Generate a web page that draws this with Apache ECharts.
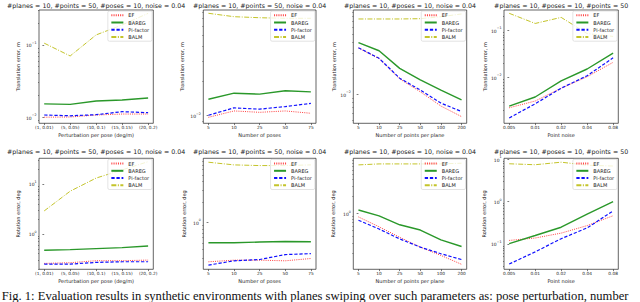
<!DOCTYPE html>
<html><head><meta charset="utf-8">
<script src="https://cdn.jsdelivr.net/npm/echarts@6/dist/echarts.min.js"></script>
<style>html,body{margin:0;padding:0;background:#fff}#c{width:640px;height:302px}</style>
</head><body><div id="c"></div>
<script>
const FONT = 'DejaVu Sans';
const seriesNames = ['EF', 'BAREG', 'Pi-factor', 'BALM'];

const pertCats = ['(1, 0.01)', '(5, 0.05)', '(10, 0.1)', '(15, 0.15)', '(20, 0.2)'];
const posesCats = ['5', '10', '25', '50', '75'];
const pointsCats = ['5', '10', '25', '50', '100', '200'];
const noiseCats = ['0.005', '0.01', '0.02', '0.04', '0.08'];

const titlePert = '#planes = 10, #points = 50, #poses = 10, noise = 0.04';
const titlePoses = '#planes = 10, #points = 50, noise = 0.04';
const titlePoints = '#planes = 10, #poses = 10, noise = 0.04';
const titleNoise = '#planes = 10, #poses = 10, #points = 50';

const xNamePert = 'Perturbation per pose (deg/m)';
const xNamePoses = 'Number of poses';
const xNamePoints = 'Number of points per plane';
const xNameNoise = 'Point noise';
const yNameTrans = 'Translation error, m';
const yNameRot = 'Rotation error, deg';

// Translation error, m
const tPertEF = [0.00994, 0.0100, 0.01066, 0.0110, 0.0110];
const tPertBAREG = [0.0152, 0.0150, 0.0167, 0.0172, 0.0184];
const tPertPi = [0.01066, 0.0104, 0.01077, 0.01186, 0.01148];
const tPertBALM = [0.106, 0.0704, 0.138, 0.19, 0.275];
const tPosesEF = [0.00968, 0.0110, 0.0107, 0.0110, 0.0105];
const tPosesBAREG = [0.0139, 0.0157, 0.0154, 0.0165, 0.0161];
const tPosesPi = [0.0101, 0.0117, 0.0114, 0.0120, 0.0128];
const tPosesBALM = [0.0777, 0.0726, 0.0711, 0.0703, 0.0703];
const tPointsEF = [0.0345, 0.026, 0.0151, 0.0107, 0.0073, 0.0055];
const tPointsBAREG = [0.0398, 0.0321, 0.020, 0.0147, 0.0112, 0.0086];
const tPointsPi = [0.0348, 0.0262, 0.0154, 0.0112, 0.0079, 0.0063];
const tPointsBALM = [0.0751, 0.0751, 0.0751, 0.0757, 0.0798, 0.0859];
const tNoiseEF = [0.00228, 0.00317, 0.00593, 0.01035, 0.0209];
const tNoiseBAREG = [0.00248, 0.00386, 0.0085, 0.0151, 0.0327];
const tNoisePi = [0.00139, 0.00277, 0.00593, 0.01086, 0.026];
const tNoiseBALM = [0.228, 0.139, 0.187, 0.085, 0.074];
// Rotation error, deg
const rPertEF = [0.256, 0.264, 0.29, 0.29, 0.298];
const rPertBAREG = [0.469, 0.483, 0.506, 0.53, 0.572];
const rPertPi = [0.248, 0.248, 0.268, 0.276, 0.276];
const rPertBALM = [2.88, 7.15, 13.1, 19.1, 27.9];
const rPosesEF = [0.263, 0.278, 0.278, 0.272, 0.294];
const rPosesBAREG = [0.501, 0.501, 0.513, 0.523, 0.518];
const rPosesPi = [0.235, 0.272, 0.284, 0.336, 0.347];
const rPosesBALM = [7.66, 7.0, 6.84, 6.84, 7.0];
const rPointsEF = [0.871, 0.582, 0.379, 0.253, 0.180, 0.125];
const rPointsBAREG = [1.156, 0.908, 0.631, 0.509, 0.340, 0.259];
const rPointsPi = [0.762, 0.53, 0.354, 0.253, 0.193, 0.152];
const rPointsBALM = [7.33, 7.63, 7.63, 7.63, 7.63, 7.85];
const rNoiseEF = [0.121, 0.138, 0.18, 0.271, 0.463];
const rNoiseBAREG = [0.1016, 0.158, 0.248, 0.507, 1.0];
const rNoisePi = [0.0336, 0.065, 0.133, 0.239, 0.60];
const rNoiseBALM = [7.8, 7.4, 8.5, 7.2, 6.9];

// labelled decade ticks per panel
const ticksT1 = [0.01, 0.1], ticksT2 = [0.01], ticksT3 = [0.01], ticksT4 = [0.01, 0.1];
const ticksR1 = [1, 10], ticksR2 = [1], ticksR3 = [1], ticksR4 = [0.1, 1, 10];

const caption = 'Fig. 1: Evaluation results in synthetic environments with planes swiping over such parameters as: pose perturbation, number';

const panels = [
  {row:0,col:0,cats:pertCats,title:titlePert,xName:xNamePert,yName:yNameTrans,data:[tPertEF,tPertBAREG,tPertPi,tPertBALM],ticks:ticksT1,yMin:0.00818,yMax:0.306,yGap:18.6},
  {row:0,col:1,cats:posesCats,title:titlePoses,xName:xNamePoses,yName:yNameTrans,data:[tPosesEF,tPosesBAREG,tPosesPi,tPosesBALM],ticks:ticksT2,yMin:0.00859,yMax:0.083,yGap:19.2},
  {row:0,col:2,cats:pointsCats,title:titlePoints,xName:xNamePoints,yName:yNameTrans,data:[tPointsEF,tPointsBAREG,tPointsPi,tPointsBALM],ticks:ticksT3,yMin:0.0046,yMax:0.0955,yGap:12.9},
  {row:0,col:3,cats:noiseCats,title:titleNoise,xName:xNameNoise,yName:yNameTrans,data:[tNoiseEF,tNoiseBAREG,tNoisePi,tNoiseBALM],ticks:ticksT4,yMin:0.00107,yMax:0.268,yGap:16.6},
  {row:1,col:0,cats:pertCats,title:titlePert,xName:xNamePert,yName:yNameRot,data:[rPertEF,rPertBAREG,rPertPi,rPertBALM],ticks:ticksR1,yMin:0.195,yMax:32.6,yGap:18.6},
  {row:1,col:1,cats:posesCats,title:titlePoses,xName:xNamePoses,yName:yNameRot,data:[rPosesEF,rPosesBAREG,rPosesPi,rPosesBALM],ticks:ticksR2,yMin:0.204,yMax:8.75,yGap:16.6},
  {row:1,col:2,cats:pointsCats,title:titlePoints,xName:xNamePoints,yName:yNameRot,data:[rPointsEF,rPointsBAREG,rPointsPi,rPointsBALM],ticks:ticksR3,yMin:0.102,yMax:9.6,yGap:17.6},
  {row:1,col:3,cats:noiseCats,title:titleNoise,xName:xNameNoise,yName:yNameRot,data:[rNoiseEF,rNoiseBAREG,rNoisePi,rNoiseBALM],ticks:ticksR4,yMin:0.0252,yMax:10.5,yGap:17.6}
];

const colL = [39, 203.3, 353.3, 504], colW = [114.3, 112.7, 113.4, 114.3];
const rowT = [10, 158.3], rowH = [113.3, 111];
const titleY = [5, 151.5];

const styles = [
  {color:'#ff4040', width:1.0, type:[1, 1.2]},
  {color:'#2a982a', width:1.4, type:'solid'},
  {color:'#1010ff', width:1.2, type:[3.3, 1.8]},
  {color:'#c4c42a', width:1.0, type:[5, 1.5, 1, 1.5]}
];

function minorTicks(lo, hi) {
  const out = [];
  for (let e = Math.floor(Math.log10(lo)); e <= Math.ceil(Math.log10(hi)); e++) {
    for (let k = 2; k <= 9; k++) {
      const v = k * Math.pow(10, e);
      if (v >= lo && v <= hi) out.push(+v.toPrecision(6));
    }
  }
  return out;
}
function supLabel(v) {
  const e = Math.round(Math.log10(v));
  return '{b|10}{s|' + (e < 0 ? '\u2212' + (-e) : '' + e) + '}';
}

const grid = [], xAxis = [], yAxis = [], series = [], legend = [], graphic = [];
panels.forEach((p, i) => {
  const L = colL[p.col], W = colW[p.col], T = rowT[p.row], H = rowH[p.row];
  grid.push({left: L, top: T, width: W, height: H, show: true, borderColor: '#222', borderWidth: 0.7, backgroundColor: 'transparent'});
  const n = p.cats.length, pad = (n - 1) * 0.05;
  const idx = p.cats.map((_, k) => k);
  xAxis.push({
    type: 'value', gridIndex: i, min: -pad, max: n - 1 + pad,
    splitLine: {show: false}, axisLine: {show: false},
    axisTick: {show: true, customValues: idx, length: 1.8, lineStyle: {color: '#222', width: 0.6}},
    axisLabel: {customValues: idx, formatter: v => p.cats[Math.round(v)], fontSize: 4.3, color: '#222', margin: 2.4, fontFamily: FONT},
    name: p.xName, nameLocation: 'middle', nameGap: 9.2,
    nameTextStyle: {fontSize: 5, color: '#222', fontFamily: FONT}
  });
  yAxis.push({
    type: 'log', logBase: 10, gridIndex: i, min: p.yMin, max: p.yMax,
    splitLine: {show: false}, axisLine: {show: false},
    axisTick: {show: true, customValues: p.ticks, length: 1.8, lineStyle: {color: '#222', width: 0.6}},
    axisLabel: {customValues: p.ticks, formatter: supLabel, margin: 2.4,
      rich: {b: {fontSize: 4.5, fontFamily: FONT, color: '#222', lineHeight: 7, verticalAlign: 'bottom'},
             s: {fontSize: 3.3, fontFamily: FONT, color: '#222', lineHeight: 3.6, verticalAlign: 'top'}}},
    name: p.yName, nameLocation: 'middle', nameGap: p.yGap,
    nameTextStyle: {fontSize: 5, color: '#222', fontFamily: FONT}
  });
  yAxis.push({
    type: 'log', logBase: 10, gridIndex: i, min: p.yMin, max: p.yMax, position: 'left',
    splitLine: {show: false}, axisLine: {show: false}, axisLabel: {show: false},
    axisTick: {show: true, customValues: minorTicks(p.yMin, p.yMax), length: 1.0, lineStyle: {color: '#222', width: 0.5}}
  });
  p.data.forEach((arr, s) => {
    const st = styles[s];
    series.push({
      type: 'line', name: seriesNames[s], xAxisIndex: i, yAxisIndex: 2 * i,
      data: arr.map((v, k) => [k, v]), symbol: 'none', showSymbol: false,
      lineStyle: {color: st.color, width: st.width, type: st.type}, itemStyle: {color: st.color},
      silent: true, z: 2 + s
    });
  });
  legend.push({
    data: seriesNames, orient: 'vertical', right: 640 - (L + W) + 1.2, top: T + 1,
    itemWidth: 12, itemHeight: 4.5, itemGap: 2.2, padding: [1.8, 3, 1.8, 2.5],
    textStyle: {fontSize: 5, color: '#222', fontFamily: FONT},
    borderColor: '#d0d0d0', borderWidth: 0.6, borderRadius: 1.5,
    backgroundColor: 'rgba(255,255,255,0.8)', selectedMode: false,
    itemStyle: {opacity: 0}, z: 10
  });
  graphic.push({type: 'text', x: L + W / 2, y: titleY[p.row], z: 20,
    style: {text: p.title, fill: '#222', font: '6.3px "DejaVu Sans"', align: 'center', verticalAlign: 'middle'}});
});
graphic.push({type: 'text', x: 1.7, y: 295.5, z: 20,
  style: {text: caption, fill: '#111', font: '12.6px "Liberation Serif"', align: 'left', verticalAlign: 'middle'}});

const chart = echarts.init(document.getElementById('c'), null, {renderer: 'svg'});
chart.setOption({animation: false, grid, xAxis, yAxis, series, legend, graphic});
</script></body></html>
